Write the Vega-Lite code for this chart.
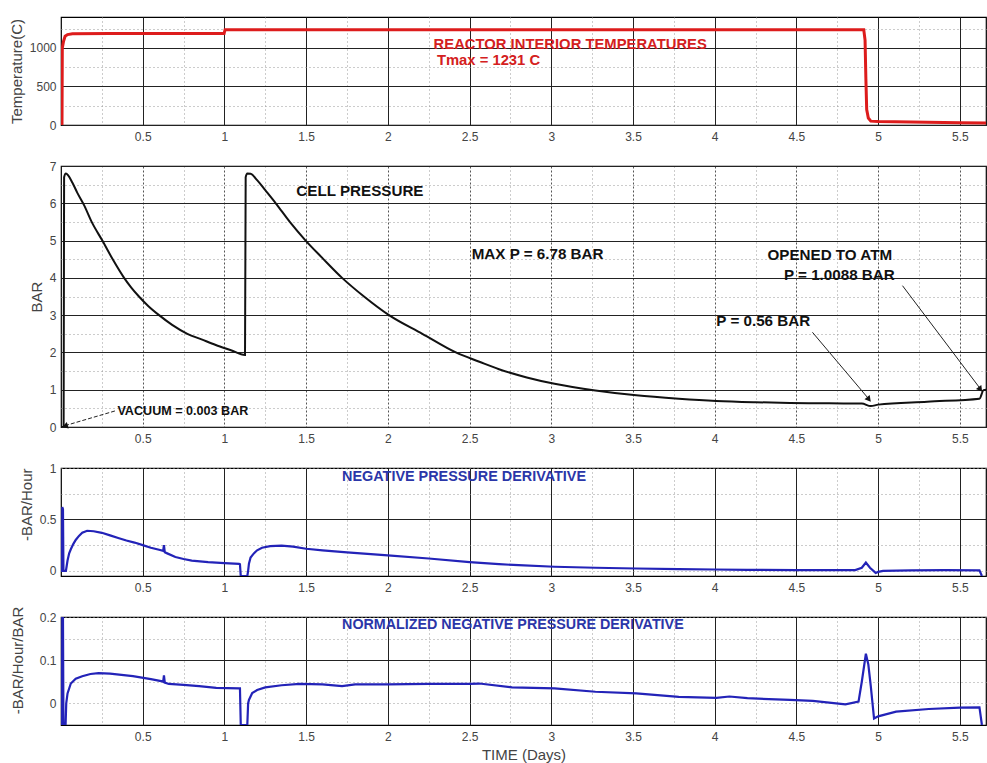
{
 "$schema": "https://vega.github.io/schema/vega-lite/v6.json",
 "padding": {"left": 8, "top": 16, "right": 0, "bottom": 0},
 "autosize": {"type": "pad"},
 "background": "white",
 "spacing": 41,
 "bounds": "flush",
 "resolve": {"scale": {"x": "independent", "y": "independent"}},
 "datasets": {
  "temp": [{"t":0,"v":0},{"t":0.006,"v":0},{"t":0.008,"v":1000},{"t":0.015,"v":1080},{"t":0.025,"v":1150},{"t":0.04,"v":1172},{"t":0.07,"v":1182},{"t":0.3,"v":1185},{"t":0.6,"v":1186},{"t":0.998,"v":1186},{"t":1.004,"v":1236},{"t":2,"v":1236},{"t":3,"v":1236},{"t":4,"v":1236},{"t":4.912,"v":1236},{"t":4.92,"v":1100},{"t":4.925,"v":600},{"t":4.93,"v":200},{"t":4.94,"v":90},{"t":4.955,"v":50},{"t":5.0,"v":45},{"t":5.2,"v":40},{"t":5.5,"v":30},{"t":5.66,"v":25}],
  "notes1": [{"t":2.28,"v":1040,"label":"REACTOR INTERIOR TEMPERATURES"},{"t":2.3,"v":830,"label":"Tmax = 1231 C"}],
  "press": [{"t":0,"v":0.003},{"t":0.016,"v":0.003},{"t":0.019,"v":6.7},{"t":0.03,"v":6.8},{"t":0.045,"v":6.74},{"t":0.07,"v":6.55},{"t":0.1,"v":6.28},{"t":0.141,"v":5.95},{"t":0.19,"v":5.48},{"t":0.253,"v":5.0},{"t":0.32,"v":4.47},{"t":0.386,"v":4.0},{"t":0.43,"v":3.74},{"t":0.477,"v":3.5},{"t":0.535,"v":3.24},{"t":0.6,"v":3.0},{"t":0.68,"v":2.74},{"t":0.773,"v":2.5},{"t":0.86,"v":2.35},{"t":0.947,"v":2.2},{"t":1.04,"v":2.06},{"t":1.126,"v":1.93},{"t":1.13,"v":6.7},{"t":1.14,"v":6.8},{"t":1.16,"v":6.79},{"t":1.2,"v":6.62},{"t":1.25,"v":6.35},{"t":1.314,"v":6.0},{"t":1.4,"v":5.5},{"t":1.497,"v":5.0},{"t":1.6,"v":4.53},{"t":1.72,"v":4.0},{"t":1.854,"v":3.5},{"t":2.007,"v":3.0},{"t":2.211,"v":2.5},{"t":2.416,"v":2.0},{"t":2.56,"v":1.75},{"t":2.68,"v":1.55},{"t":2.85,"v":1.33},{"t":3.02,"v":1.16},{"t":3.27,"v":0.98},{"t":3.52,"v":0.85},{"t":3.78,"v":0.76},{"t":4.01,"v":0.7},{"t":4.25,"v":0.665},{"t":4.46,"v":0.645},{"t":4.7,"v":0.635},{"t":4.9,"v":0.63},{"t":4.955,"v":0.56},{"t":5.0,"v":0.6},{"t":5.3,"v":0.68},{"t":5.62,"v":0.76},{"t":5.645,"v":0.99},{"t":5.66,"v":1.0}],
  "notes2": [{"t":1.44,"v":6.34,"label":"CELL PRESSURE"},{"t":2.513,"v":4.65,"label":"MAX P = 6.78 BAR"},{"t":4.323,"v":4.6,"label":"OPENED TO ATM"},{"t":4.424,"v":4.08,"label":"P = 1.0088 BAR"},{"t":4.01,"v":2.83,"label":"P = 0.56 BAR"}],
  "notesVac": [{"t":0.345,"v":0.43,"label":"VACUUM = 0.003 BAR"}],
  "arrows2": [{"id":"a","t":0.33,"v":0.43,"t2":0.02,"v2":0.03},{"id":"b","t":4.598,"v":2.54,"t2":4.945,"v2":0.74},{"id":"c","t":5.149,"v":3.79,"t2":5.628,"v2":1.01}],
  "heads2": [{"id":"a","t":0.03,"v":0.03},{"id":"b","t":4.94,"v":0.76},{"id":"c","t":5.622,"v":1.03}],
  "deriv": [{"t":0,"v":0},{"t":0.005,"v":0},{"t":0.008,"v":0.62},{"t":0.012,"v":0.6},{"t":0.015,"v":0},{"t":0.03,"v":0},{"t":0.035,"v":0.05},{"t":0.04,"v":0.1},{"t":0.05,"v":0.17},{"t":0.06,"v":0.21},{"t":0.075,"v":0.26},{"t":0.09,"v":0.3},{"t":0.11,"v":0.34},{"t":0.13,"v":0.37},{"t":0.16,"v":0.39},{"t":0.2,"v":0.385},{"t":0.25,"v":0.37},{"t":0.3,"v":0.345},{"t":0.35,"v":0.32},{"t":0.4,"v":0.295},{"t":0.45,"v":0.275},{"t":0.5,"v":0.25},{"t":0.55,"v":0.225},{"t":0.6,"v":0.205},{"t":0.625,"v":0.195},{"t":0.63,"v":0.25},{"t":0.635,"v":0.18},{"t":0.65,"v":0.17},{"t":0.7,"v":0.135},{"t":0.75,"v":0.115},{"t":0.8,"v":0.1},{"t":0.9,"v":0.085},{"t":1.0,"v":0.075},{"t":1.09,"v":0.068},{"t":1.095,"v":0.065},{"t":1.1,"v":-0.05},{"t":1.14,"v":-0.05},{"t":1.145,"v":0.0},{"t":1.15,"v":0.07},{"t":1.16,"v":0.13},{"t":1.18,"v":0.17},{"t":1.2,"v":0.2},{"t":1.23,"v":0.225},{"t":1.28,"v":0.24},{"t":1.35,"v":0.245},{"t":1.42,"v":0.235},{"t":1.5,"v":0.215},{"t":1.6,"v":0.2},{"t":1.75,"v":0.18},{"t":2.0,"v":0.15},{"t":2.25,"v":0.12},{"t":2.5,"v":0.085},{"t":2.68,"v":0.065},{"t":2.8,"v":0.055},{"t":3.02,"v":0.04},{"t":3.27,"v":0.03},{"t":3.52,"v":0.023},{"t":3.78,"v":0.016},{"t":4.0,"v":0.013},{"t":4.2,"v":0.01},{"t":4.5,"v":0.008},{"t":4.86,"v":0.007},{"t":4.9,"v":0.03},{"t":4.925,"v":0.08},{"t":4.95,"v":0.03},{"t":4.985,"v":-0.02},{"t":5.0,"v":-0.01},{"t":5.03,"v":0.0},{"t":5.2,"v":0.004},{"t":5.41,"v":0.007},{"t":5.62,"v":0.005},{"t":5.635,"v":-0.05}],
  "notes3": [{"t":1.72,"v":0.915,"label":"NEGATIVE PRESSURE DERIVATIVE"}],
  "norm": [{"t":0.005,"v":-0.05},{"t":0.008,"v":0.2},{"t":0.012,"v":0.2},{"t":0.015,"v":-0.05},{"t":0.028,"v":-0.05},{"t":0.032,"v":0.0},{"t":0.04,"v":0.023},{"t":0.06,"v":0.046},{"t":0.09,"v":0.057},{"t":0.13,"v":0.063},{"t":0.18,"v":0.068},{"t":0.23,"v":0.07},{"t":0.3,"v":0.069},{"t":0.44,"v":0.063},{"t":0.55,"v":0.056},{"t":0.62,"v":0.051},{"t":0.625,"v":0.05},{"t":0.63,"v":0.065},{"t":0.635,"v":0.048},{"t":0.66,"v":0.045},{"t":0.75,"v":0.043},{"t":0.845,"v":0.04},{"t":0.95,"v":0.036},{"t":1.09,"v":0.035},{"t":1.095,"v":0.035},{"t":1.1,"v":-0.05},{"t":1.14,"v":-0.05},{"t":1.145,"v":0.0},{"t":1.15,"v":0.008},{"t":1.17,"v":0.024},{"t":1.2,"v":0.031},{"t":1.25,"v":0.037},{"t":1.35,"v":0.042},{"t":1.46,"v":0.045},{"t":1.6,"v":0.044},{"t":1.72,"v":0.04},{"t":1.8,"v":0.044},{"t":2.0,"v":0.044},{"t":2.25,"v":0.045},{"t":2.5,"v":0.045},{"t":2.56,"v":0.046},{"t":2.76,"v":0.037},{"t":3.02,"v":0.035},{"t":3.27,"v":0.027},{"t":3.52,"v":0.023},{"t":3.78,"v":0.015},{"t":4.01,"v":0.013},{"t":4.09,"v":0.016},{"t":4.2,"v":0.012},{"t":4.46,"v":0.008},{"t":4.6,"v":0.006},{"t":4.8,"v":-0.002},{"t":4.88,"v":0.004},{"t":4.9,"v":0.05},{"t":4.925,"v":0.115},{"t":4.94,"v":0.09},{"t":4.955,"v":0.04},{"t":4.975,"v":-0.035},{"t":5.0,"v":-0.03},{"t":5.11,"v":-0.019},{"t":5.31,"v":-0.013},{"t":5.5,"v":-0.01},{"t":5.62,"v":-0.009},{"t":5.635,"v":-0.05}],
  "notes4": [{"t":1.72,"v":0.182,"label":"NORMALIZED NEGATIVE PRESSURE DERIVATIVE"}]
 },
 "vconcat": [
  {
   "width": 925, "height": 108,
   "encoding": {
    "x": {"field": "t", "type": "quantitative", "title": null, "scale": {"domain": [0, 5.66], "nice": false, "zero": false},
          "axis": {"values": [0.25,0.5,0.75,1,1.25,1.5,1.75,2,2.25,2.5,2.75,3,3.25,3.5,3.75,4,4.25,4.5,4.75,5,5.25,5.5], "labelExpr": "datum.value % 0.5 === 0 ? '' + datum.value : ''", "grid": true,
                   "gridColor": {"condition": {"test": "datum.value % 0.5 === 0", "value": "#222"}, "value": "#999"},
                   "gridDash": {"condition": {"test": "datum.value % 0.5 === 0", "value": []}, "value": [1, 3]}, "labelPadding": 6}},
    "y": {"field": "v", "type": "quantitative", "title": "Temperature(C)", "scale": {"domain": [0, 1400], "nice": false},
          "axis": {"values": [0,250,500,750,1000,1250], "labelExpr": "datum.value % 500 === 0 ? '' + datum.value : ''", "grid": true,
                   "gridColor": {"condition": {"test": "datum.value % 500 === 0", "value": "#222"}, "value": "#999"},
                   "gridDash": {"condition": {"test": "datum.value % 500 === 0", "value": []}, "value": [1, 3]}, "titlePadding": 37}}
   },
   "layer": [
    {"data": {"name": "temp"}, "mark": {"type": "line", "color": "#dd1c1c", "strokeWidth": 3, "clip": true}},
    {"data": {"name": "notes1"}, "mark": {"type": "text", "align": "left", "baseline": "middle", "color": "#d42020", "fontSize": 14.8, "fontWeight": "bold"}, "encoding": {"text": {"field": "label"}}}
   ]
  },
  {
   "width": 925, "height": 261,
   "encoding": {
    "x": {"field": "t", "type": "quantitative", "title": null, "scale": {"domain": [0, 5.66], "nice": false, "zero": false},
          "axis": {"values": [0.25,0.5,0.75,1,1.25,1.5,1.75,2,2.25,2.5,2.75,3,3.25,3.5,3.75,4,4.25,4.5,4.75,5,5.25,5.5], "labelExpr": "datum.value % 0.5 === 0 ? '' + datum.value : ''", "grid": true,
                   "gridColor": {"condition": {"test": "datum.value % 0.5 === 0", "value": "#555"}, "value": "#999"},
                   "gridDash": {"condition": {"test": "datum.value % 0.5 === 0", "value": [2, 2]}, "value": [1, 3]}, "labelPadding": 6}},
    "y": {"field": "v", "type": "quantitative", "title": "BAR", "scale": {"domain": [0, 7], "nice": false},
          "axis": {"values": [0,0.5,1,1.5,2,2.5,3,3.5,4,4.5,5,5.5,6,6.5,7], "labelExpr": "datum.value % 1 === 0 ? '' + datum.value : ''", "grid": true,
                   "gridColor": {"condition": {"test": "datum.value % 1 === 0", "value": "#222"}, "value": "#999"},
                   "gridDash": {"condition": {"test": "datum.value % 1 === 0", "value": []}, "value": [1, 3]}, "titlePadding": 17}}
   },
   "layer": [
    {"data": {"name": "press"}, "mark": {"type": "line", "color": "#111", "strokeWidth": 2, "clip": true, "interpolate": "monotone"}},
    {"data": {"name": "notes2"}, "mark": {"type": "text", "align": "left", "baseline": "middle", "color": "#111", "fontSize": 15.2, "fontWeight": "bold"}, "encoding": {"text": {"field": "label"}}},
    {"data": {"name": "notesVac"}, "mark": {"type": "text", "align": "left", "baseline": "middle", "color": "#111", "fontSize": 12.6, "fontWeight": "bold"}, "encoding": {"text": {"field": "label"}}},
    {"data": {"name": "arrows2"}, "transform": [{"filter": "datum.id === 'a'"}], "mark": {"type": "rule", "color": "#222", "strokeWidth": 1, "strokeDash": [4, 2]}, "encoding": {"x2": {"field": "t2"}, "y2": {"field": "v2"}}},
    {"data": {"name": "arrows2"}, "transform": [{"filter": "datum.id !== 'a'"}], "mark": {"type": "rule", "color": "#222", "strokeWidth": 1}, "encoding": {"x2": {"field": "t2"}, "y2": {"field": "v2"}}},
    {"data": {"name": "heads2"}, "transform": [{"filter": "datum.id === 'a'"}], "mark": {"type": "point", "shape": "triangle", "filled": true, "color": "#111", "size": 45, "angle": 254, "opacity": 1}},
    {"data": {"name": "heads2"}, "transform": [{"filter": "datum.id === 'b'"}], "mark": {"type": "point", "shape": "triangle", "filled": true, "color": "#111", "size": 45, "angle": 140, "opacity": 1}},
    {"data": {"name": "heads2"}, "transform": [{"filter": "datum.id === 'c'"}], "mark": {"type": "point", "shape": "triangle", "filled": true, "color": "#111", "size": 45, "angle": 143, "opacity": 1}}
   ]
  },
  {
   "width": 925, "height": 108,
   "encoding": {
    "x": {"field": "t", "type": "quantitative", "title": null, "scale": {"domain": [0, 5.66], "nice": false, "zero": false},
          "axis": {"values": [0.25,0.5,0.75,1,1.25,1.5,1.75,2,2.25,2.5,2.75,3,3.25,3.5,3.75,4,4.25,4.5,4.75,5,5.25,5.5], "labelExpr": "datum.value % 0.5 === 0 ? '' + datum.value : ''", "grid": true,
                   "gridColor": {"condition": {"test": "datum.value % 0.5 === 0", "value": "#222"}, "value": "#999"},
                   "gridDash": {"condition": {"test": "datum.value % 0.5 === 0", "value": []}, "value": [1, 3]}, "labelPadding": 6}},
    "y": {"field": "v", "type": "quantitative", "title": "-BAR/Hour", "scale": {"domain": [-0.05, 1], "nice": false, "zero": false},
          "axis": {"values": [0,0.25,0.5,0.75,1], "labelExpr": "datum.value % 0.5 === 0 ? '' + datum.value : ''", "grid": true,
                   "gridColor": {"condition": {"test": "datum.value === 0.5", "value": "#222"}, "value": "#999"},
                   "gridDash": {"condition": {"test": "datum.value === 0.5", "value": []}, "value": [1, 3]}, "titlePadding": 27, "titleAnchor": "end"}}
   },
   "layer": [
    {"data": {"name": "deriv"}, "mark": {"type": "line", "color": "#2323b8", "strokeWidth": 2.2, "clip": true}},
    {"data": {"name": "notes3"}, "mark": {"type": "text", "align": "left", "baseline": "middle", "color": "#2b36a8", "fontSize": 14.4, "fontWeight": "bold"}, "encoding": {"text": {"field": "label"}}}
   ]
  },
  {
   "width": 925, "height": 108,
   "encoding": {
    "x": {"field": "t", "type": "quantitative", "title": "TIME (Days)", "scale": {"domain": [0, 5.66], "nice": false, "zero": false},
          "axis": {"values": [0.25,0.5,0.75,1,1.25,1.5,1.75,2,2.25,2.5,2.75,3,3.25,3.5,3.75,4,4.25,4.5,4.75,5,5.25,5.5], "labelExpr": "datum.value % 0.5 === 0 ? '' + datum.value : ''", "grid": true,
                   "gridColor": {"condition": {"test": "datum.value % 0.5 === 0", "value": "#222"}, "value": "#999"},
                   "gridDash": {"condition": {"test": "datum.value % 0.5 === 0", "value": []}, "value": [1, 3]}, "labelPadding": 6, "titlePadding": 22}},
    "y": {"field": "v", "type": "quantitative", "title": "-BAR/Hour/BAR", "scale": {"domain": [-0.05, 0.2], "nice": false, "zero": false},
          "axis": {"values": [0,0.05,0.1,0.15,0.2], "labelExpr": "(datum.value === 0 || datum.value === 0.1 || datum.value === 0.2) ? '' + datum.value : ''", "grid": true,
                   "gridColor": {"condition": {"test": "datum.value === 0.1", "value": "#222"}, "value": "#999"},
                   "gridDash": {"condition": {"test": "datum.value === 0.1", "value": []}, "value": [1, 3]}, "titlePadding": 36, "titleY": 43}}
   },
   "layer": [
    {"data": {"name": "norm"}, "mark": {"type": "line", "color": "#2323b8", "strokeWidth": 2.2, "clip": true}},
    {"data": {"name": "notes4"}, "mark": {"type": "text", "align": "left", "baseline": "middle", "color": "#2b36a8", "fontSize": 14.3, "fontWeight": "bold"}, "encoding": {"text": {"field": "label"}}}
   ]
  }
 ],
 "config": {
  "font": "Liberation Sans",
  "view": {"stroke": "#000", "strokeWidth": 1.2},
  "axis": {"domain": false, "ticks": false, "labelFont": "Liberation Sans", "labelColor": "#444", "labelFontSize": 12, "labelPadding": 5,
           "titleFont": "Liberation Sans", "titleFontWeight": "normal", "titleColor": "#444", "titleFontSize": 15,
           "labelOverlap": false, "labelFlush": false, "minExtent": 0, "maxExtent": 0, "gridWidth": 1, "gridOpacity": 1}
 }
}
